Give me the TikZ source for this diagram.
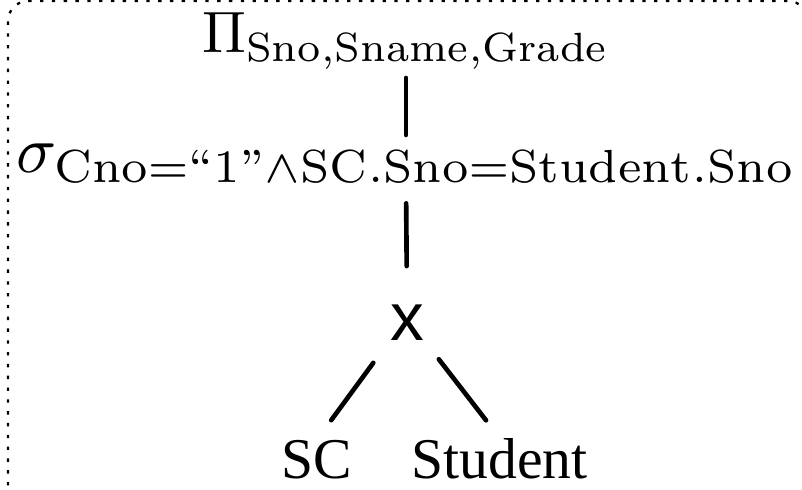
\documentclass[tikz,border=0pt]{standalone}
\usepackage{amsmath, amssymb}
\usepackage{graphicx}
\usepackage{fontspec}
\newfontfamily\relfont{Liberation Serif}
\newfontfamily\crossfont{Liberation Sans}
\usetikzlibrary{calc}

\begin{document}
\begin{tikzpicture}[
    op/.style={inner sep=0pt, anchor=base},
    rel/.style={inner sep=0pt, anchor=base, font=\fontsize{41}{49}\selectfont\relfont},
    edge/.style={line width=3.3pt, line cap=round},
    frame/.style={line width=1.6pt, dash pattern=on 2.4pt off 6pt, rounded corners=0.5cm}
  ]
  \useasboundingbox (0,0) rectangle (20.05,12.225);
  \draw[frame] (0.2,-1) rectangle (20.2,12.2);
  % operators of the query tree
  \node[op] (proj) at (10.15,10.9) {\scalebox{4.15}{$\Pi_{\mathrm{Sno,Sname,Grade}}$}};
  \node[op] (sel) at (10.15,7.9)
    {\scalebox{4.72}{$\sigma_{\mathrm{Cno}=\text{``1''}\wedge\mathrm{SC.Sno}=\mathrm{Student.Sno}}$}};
  \node[op, font=\fontsize{48}{56}\selectfont\crossfont] (cross) at (10.175,3.725) {x};
  % relations
  \node[rel] (sc) at (7.925,0.275) {SC};
  \node[rel] (stu) at (12.4875,0.275) {Student};
  \draw[edge, shorten <=0.2cm, shorten >=0.23cm] (proj.south) -- (sel.north);
  \draw[edge, shorten <=0.48cm, shorten >=0.95cm] (sel.south) -- (cross.north);
  \draw[edge, shorten <=0.7cm, shorten >=0.6cm] (cross.south west) -- (sc.north);
  \draw[edge, shorten <=0.6cm, shorten >=0.55cm] (cross.south east) -- (stu.north);
\end{tikzpicture}
\end{document}
